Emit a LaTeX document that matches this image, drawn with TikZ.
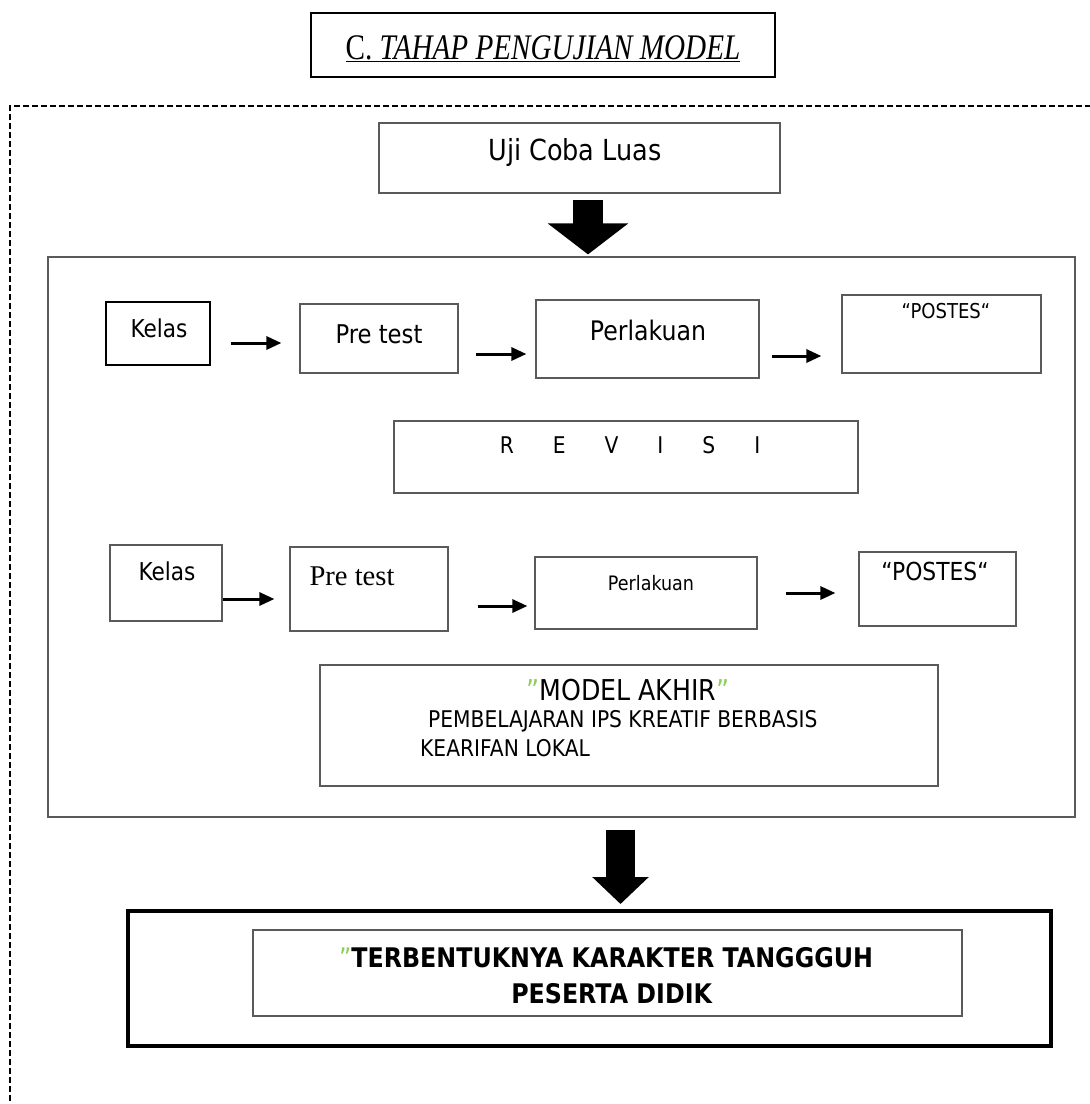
\documentclass[tikz,border=0pt]{standalone}
\usepackage{fontspec}
\setmainfont{DejaVu Sans}[FakeStretch=0.88]
\newfontfamily\timesfont{Liberation Serif}
\newfontfamily\titlefont{Liberation Serif}[FakeStretch=0.81]
\usepackage{tikz}
\usetikzlibrary{arrows.meta}
\definecolor{frame}{HTML}{5A5A5A}
\definecolor{quote}{HTML}{8CCF5A}
\tikzset{
  box/.style n args={2}{draw=frame, line width=1.2pt, minimum width=#1, minimum height=#2, inner sep=0pt},
  txt/.style={anchor=base, inner sep=0pt, font=\fontsize{#1}{#1}\selectfont},
  thinarrow/.style={line width=3pt, -{Triangle[length=15pt,width=13pt]}},
  bigarrow/.style n args={3}{line width=#1, -{Triangle[length=#2,width=#3]}},
  dashline/.style={draw=black, line width=1.5pt, dash pattern=on 6pt off 3pt}
}

\begin{document}
\begin{tikzpicture}[x=1pt, y=-1pt]
  \clip (0,0) rectangle (1090,1104);
  \fill[white] (0,0) rectangle (1090,1104);

  % judul
  \node[box={464}{64}, draw=black] (judul) at (543,45) {};
  \node[txt=36] (judulteks) at (543,59) {\titlefont\underline{C. \textit{TAHAP PENGUJIAN MODEL}}};

  \draw[dashline] (10,1110) -- (10,106) -- (1100,106);

  \node[box={401}{70}] (uji) at (579.5,158) {};
  \node[txt=29] (ujiteks) at (575,160) {Uji Coba Luas};

  \node[box={1027}{560}] (wadah) at (561.5,537) {};
  \draw[bigarrow={30pt}{31pt}{79pt}, shorten <=6pt, shorten >=2pt] (uji.south -| 588,0) -- (wadah.north -| 588,0);

  % baris pertama
  \node[box={104}{63}, draw=black] (kelasa) at (158,333.5) {};
  \node[box={158}{69}] (pretesta) at (379,338.5) {};
  \node[box={223}{78}] (perlakuana) at (647.5,339) {};
  \node[box={199}{78}] (postesa) at (941.5,334) {};
  \node[txt=24.6] (kelasateks) at (159,337) {Kelas};
  \node[txt=25.8] (pretestateks) at (379,343) {Pre test};
  \node[txt=26.9] (perlakuanateks) at (648,340) {Perlakuan};
  \node[txt=20.5] (postesateks) at (946,318) {“POSTES“};

  \draw[thinarrow, shorten <=20pt, shorten >=18pt] (kelasa.east |- 0,343) -- (pretesta.west |- 0,343);
  \draw[thinarrow, shorten <=17pt, shorten >=9pt] (pretesta.east |- 0,354) -- (perlakuana.west |- 0,354);
  \draw[thinarrow, shorten <=12pt, shorten >=20pt] (perlakuana.east |- 0,356) -- (postesa.west |- 0,356);

  \node[box={464}{72}] (revisi) at (626,457) {};
  \node[txt=23] (revisiteks) at (630,453) {R\hspace{39pt}E\hspace{39pt}V\hspace{39pt}I\hspace{39pt}S\hspace{39pt}I};

  % baris kedua
  \node[box={112}{76}] (kelasb) at (166,583) {};
  \node[box={158}{84}] (pretestb) at (369,589) {};
  \node[box={222}{72}] (perlakuanb) at (646,593) {};
  \node[box={157}{74}] (postesb) at (937.5,589) {};
  \node[txt=24.6] (kelasbteks) at (167,580) {Kelas};
  \node[txt=28.6] (pretestbteks) at (352,585) {\timesfont Pre test};
  \node[txt=19.9] (perlakuanbteks) at (651,590) {Perlakuan};
  \node[txt=24.8] (postesbteks) at (935,580) {“POSTES“};

  \draw[thinarrow, shorten >=15pt] (kelasb.east |- 0,599) -- (pretestb.west |- 0,599);
  \draw[thinarrow, shorten <=29pt, shorten >=7pt] (pretestb.east |- 0,606) -- (perlakuanb.west |- 0,606);
  \draw[thinarrow, shorten <=28pt, shorten >=23pt] (perlakuanb.east |- 0,593) -- (postesb.west |- 0,593);

  % model akhir
  \node[box={618}{121}] (akhir) at (629,725.5) {};
  \node[txt=28.7] (akhirjudul) at (628,700) {{\color{quote}"}MODEL AKHIR{\color{quote}"}};
  \node[txt=23, anchor=base west] (akhirbaris1) at (428,727) {PEMBELAJARAN IPS KREATIF BERBASIS};
  \node[txt=23, anchor=base west] (akhirbaris2) at (420,756) {KEARIFAN LOKAL};

  % hasil
  \node[draw=black, line width=4pt, minimum width=923, minimum height=135, inner sep=0pt] (hasil) at (589.5,978.5) {};
  \node[box={709}{86}] (hasildalam) at (607.5,973) {};
  \node[txt=27] (hasilbaris1) at (606,967) {{\color{quote}"}\textbf{TERBENTUKNYA KARAKTER TANGGGUH}};
  \node[txt=27] (hasilbaris2) at (612,1003) {\textbf{PESERTA DIDIK}};
  \draw[bigarrow={29pt}{27pt}{55pt}, shorten <=12pt, shorten >=5pt] (wadah.south -| 620.5,0) -- (hasil.north -| 620.5,0);
\end{tikzpicture}
\end{document}
